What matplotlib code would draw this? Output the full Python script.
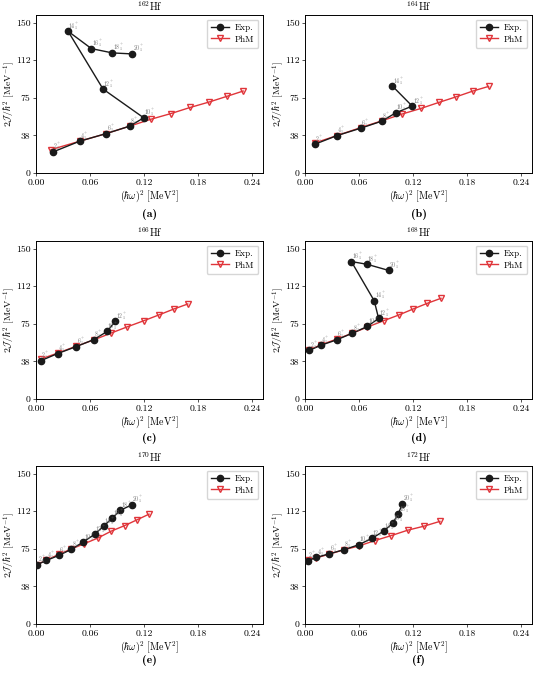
import matplotlib
matplotlib.use("Agg")
import matplotlib.pyplot as plt
import numpy as np

plt.rcParams['font.family'] = ['cmr10', 'DejaVu Serif']
plt.rcParams['mathtext.fontset'] = 'cm'
plt.rcParams['axes.formatter.use_mathtext'] = True

nuclei = ["162", "164", "166", "168", "170", "172"]
captions = ["(a)", "(b)", "(c)", "(d)", "(e)", "(f)"]

# Experimental data: (hbar omega)^2 and 2J/hbar^2
exp_x_162 = [0.0189, 0.0485, 0.078, 0.104, 0.1196, 0.0744, 0.0356, 0.0615, 0.0848, 0.107]
exp_y_162 = [21.0, 31.7, 39.3, 46.7, 55.0, 83.7, 141.3, 124.0, 119.7, 118.7]
exp_J_162 = [2, 4, 6, 8, 10, 12, 14, 16, 18, 20]
phm_x_162 = [0.0167, 0.0485, 0.078, 0.104, 0.128, 0.150, 0.171, 0.192, 0.2115, 0.230]
phm_y_162 = [23.3, 31.7, 39.3, 46.7, 53.7, 59.3, 65.3, 70.7, 76.3, 81.7]

exp_x_164 = [0.011, 0.0355, 0.062, 0.0853, 0.1008, 0.119, 0.097]
exp_y_164 = [28.7, 37.3, 44.7, 51.7, 60.0, 66.7, 86.7]
exp_J_164 = [2, 4, 6, 8, 10, 12, 14]
phm_x_164 = [0.011, 0.0355, 0.062, 0.0853, 0.1075, 0.1285, 0.1484, 0.168, 0.1864, 0.2038]
phm_y_164 = [30.0, 37.3, 45.3, 52.0, 58.7, 64.3, 70.3, 76.0, 81.7, 86.3]

exp_x_166 = [0.0056, 0.024, 0.0448, 0.0644, 0.0789, 0.0878]
exp_y_166 = [38.3, 45.3, 52.3, 59.3, 67.3, 77.3]
exp_J_166 = [2, 4, 6, 8, 10, 12]
phm_x_166 = [0.0056, 0.024, 0.0448, 0.0644, 0.0833, 0.1015, 0.1196, 0.137, 0.153, 0.1685]
phm_y_166 = [40.0, 45.7, 52.7, 59.0, 65.7, 72.0, 78.0, 84.0, 89.7, 94.7]

exp_x_168 = [0.0048, 0.0177, 0.035, 0.0526, 0.0692, 0.0817, 0.0769, 0.0515, 0.0688, 0.0928]
exp_y_168 = [48.5, 53.6, 58.9, 65.6, 72.3, 80.3, 97.8, 137.0, 134.3, 128.2]
exp_J_168 = [2, 4, 6, 8, 10, 12, 14, 16, 18, 20]
phm_x_168 = [0.0048, 0.0177, 0.035, 0.0526, 0.0692, 0.0872, 0.104, 0.120, 0.1358, 0.151]
phm_y_168 = [48.9, 54.0, 59.6, 65.6, 71.7, 78.0, 83.7, 89.7, 95.4, 100.4]

exp_x_170 = [0.0015, 0.0114, 0.0251, 0.039, 0.0524, 0.065, 0.075, 0.0845, 0.0934, 0.1063]
exp_y_170 = [59.3, 63.3, 68.3, 74.3, 81.7, 89.4, 97.4, 105.5, 113.2, 118.8]
exp_J_170 = [2, 4, 6, 8, 10, 12, 14, 16, 18, 20]
phm_x_170 = [0.0015, 0.0114, 0.0251, 0.039, 0.0535, 0.0687, 0.0838, 0.0985, 0.112, 0.1255]
phm_y_170 = [59.3, 63.6, 69.3, 74.7, 80.0, 85.7, 92.7, 98.1, 103.8, 109.5]

exp_x_172 = [0.003, 0.0125, 0.0269, 0.0431, 0.0596, 0.0744, 0.0872, 0.0972, 0.1035, 0.108]
exp_y_172 = [63.2, 66.3, 70.0, 74.0, 79.0, 85.4, 92.5, 100.2, 109.7, 119.7]
exp_J_172 = [2, 4, 6, 8, 10, 12, 14, 16, 18, 20]
phm_x_172 = [0.003, 0.0125, 0.0269, 0.0431, 0.0596, 0.0773, 0.0957, 0.114, 0.132, 0.1498]
phm_y_172 = [63.9, 65.9, 69.6, 74.0, 77.7, 83.1, 88.1, 93.5, 97.5, 102.3]

exp_x = [exp_x_162, exp_x_164, exp_x_166, exp_x_168, exp_x_170, exp_x_172]
exp_y = [exp_y_162, exp_y_164, exp_y_166, exp_y_168, exp_y_170, exp_y_172]
exp_J = [exp_J_162, exp_J_164, exp_J_166, exp_J_168, exp_J_170, exp_J_172]
phm_x = [phm_x_162, phm_x_164, phm_x_166, phm_x_168, phm_x_170, phm_x_172]
phm_y = [phm_y_162, phm_y_164, phm_y_166, phm_y_168, phm_y_170, phm_y_172]

xticks = [0.00, 0.06, 0.12, 0.18, 0.24]
xtick_labels = ["0.00", "0.06", "0.12", "0.18", "0.24"]
yticks = [0, 37.5, 75, 112.5, 150]
ytick_labels = ["0", "38", "75", "112", "150"]

fig = plt.figure(figsize=(5.38, 6.80), dpi=100)
W, H = 538.0, 680.0
lefts = [36, 305]
width = 227
tops = [15, 241, 466]
height = 158
cap_y = [214, 439, 661]

red = '#e0353a'
for i in range(6):
    r, c = divmod(i, 2)
    ax = fig.add_axes([lefts[c] / W, 1 - (tops[r] + height) / H, width / W, height / H])
    ax.plot(exp_x[i], exp_y[i], '-o', color='#1a1a1a', lw=1.0, ms=4.5, label='Exp.', zorder=3)
    ax.plot(phm_x[i], phm_y[i], '-v', color=red, lw=1.0, ms=4.5, mfc='none', mew=1.0,
            label='PhM', zorder=2)
    for xv, yv, j in zip(exp_x[i], exp_y[i], exp_J[i]):
        ax.annotate(r'$%d_1^+$' % j, (xv, yv), xytext=(0.3, 2.2), textcoords='offset points',
                    fontsize=4.2, color='#777777', zorder=4)
    ax.set_xlim(0, 0.252)
    ax.set_ylim(0, 157.5)
    ax.set_xticks(xticks)
    ax.set_xticklabels(xtick_labels)
    ax.set_yticks(yticks)
    ax.set_yticklabels(ytick_labels)
    ax.tick_params(labelsize=7, length=2.5, width=0.6, pad=1.5, color='#333333')
    for s in ax.spines.values():
        s.set_linewidth(0.7)
    ax.set_xlabel(r'$(\hbar\omega)^2$ [MeV$^2$]', fontsize=7.2, labelpad=1)
    ax.set_ylabel(r'$2\mathcal{J}/\hbar^2$ [MeV$^{-1}$]', fontsize=7)
    ax.yaxis.set_label_coords(-0.085, 0.5)
    ax.set_title(r'$^{%s}$Hf' % nuclei[i], fontsize=7.5, pad=3)
    ax.legend(loc='upper right', fontsize=6.5, handlelength=2.0, borderpad=0.45,
              labelspacing=0.35, handletextpad=0.7)
    fig.text((lefts[c] + width / 2) / W, 1 - cap_y[r] / H, captions[i], ha='center',
             va='center', fontsize=8.5, family='cmb10')

fig.savefig('out.png', dpi=100)
